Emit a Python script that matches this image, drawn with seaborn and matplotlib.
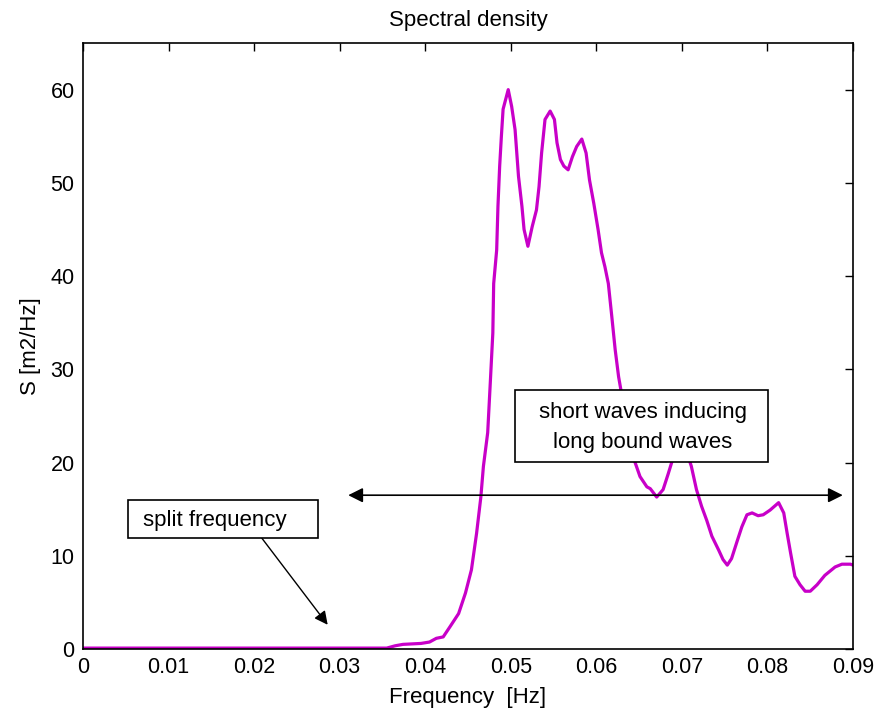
import matplotlib
matplotlib.use("Agg")
import matplotlib.pyplot as plt
from matplotlib.patches import Rectangle
import seaborn as sns
import pandas as pd

freq = [0.0, 0.010, 0.020, 0.030, 0.0355, 0.0365, 0.0374, 0.0395, 0.0405, 0.0413,
        0.0421, 0.0429, 0.0439, 0.0447, 0.0454, 0.0460, 0.0465, 0.0468, 0.0473,
        0.0476, 0.0479, 0.0480, 0.04835, 0.0485, 0.0487, 0.0489, 0.0491, 0.0497,
        0.0501, 0.0505, 0.0509, 0.0513, 0.05155, 0.0520, 0.0525, 0.0530, 0.0533,
        0.0536, 0.0540, 0.0546, 0.0551, 0.0554, 0.0558, 0.0562, 0.0567, 0.0572,
        0.0577, 0.0583, 0.0588, 0.0592, 0.0597, 0.0602, 0.0606, 0.0610, 0.0614,
        0.0618, 0.0622, 0.0626, 0.0630, 0.0636, 0.0643, 0.0651, 0.0659, 0.0663,
        0.06705, 0.0678, 0.0684, 0.0690, 0.0698, 0.0706, 0.0711, 0.0717, 0.0723,
        0.0729, 0.0735, 0.0743, 0.0748, 0.0753, 0.0758, 0.0765, 0.0770, 0.0776,
        0.0782, 0.0789, 0.0795, 0.0803, 0.0813, 0.0819, 0.0823, 0.0827, 0.0832,
        0.0838, 0.0844, 0.0850, 0.0858, 0.0867, 0.0879, 0.0887, 0.0897, 0.0900]
density = [0.1, 0.1, 0.1, 0.1, 0.1, 0.35, 0.5, 0.6, 0.75, 1.15,
           1.3, 2.4, 3.8, 6.0, 8.5, 12.4, 16.3, 19.6, 23.2,
           28.5, 33.9, 39.2, 42.8, 47.5, 51.8, 55.0, 57.9, 60.0,
           58.2, 55.7, 50.7, 47.5, 45.0, 43.2, 45.3, 47.1, 49.6,
           53.2, 56.8, 57.7, 56.8, 54.3, 52.5, 51.8, 51.4, 52.8,
           53.9, 54.7, 53.2, 50.3, 47.8, 45.0, 42.5, 41.0, 39.2,
           35.7, 32.1, 29.2, 27.1, 22.8, 20.6, 18.5, 17.4, 17.2,
           16.3, 17.1, 18.8, 20.6, 21.9, 21.0, 19.6, 17.1, 15.3,
           13.8, 12.1, 10.6, 9.6, 9.0, 9.7, 11.7, 13.1, 14.4,
           14.6, 14.3, 14.4, 14.9, 15.7, 14.6, 12.4, 10.3, 7.8,
           6.9, 6.2, 6.2, 6.9, 7.9, 8.8, 9.1, 9.1, 9.0]

xticks = [0, 0.01, 0.02, 0.03, 0.04, 0.05, 0.06, 0.07, 0.08, 0.09]
xticklabels = ["0", "0.01", "0.02", "0.03", "0.04", "0.05", "0.06", "0.07", "0.08", "0.09"]
yticks = [0, 10, 20, 30, 40, 50, 60]

df = pd.DataFrame({"Frequency": freq, "S": density})

sns.set_style("white")
plt.rcParams["font.family"] = ["Liberation Sans", "DejaVu Sans"]
plt.rcParams["text.color"] = "black"
plt.rcParams["axes.labelcolor"] = "black"

fig = plt.figure(figsize=(8.77, 7.17), dpi=100)
ax = fig.add_axes([0.0946, 0.0948, 0.9727 - 0.0946, 0.940 - 0.0948])

sns.lineplot(data=df, x="Frequency", y="S", ax=ax, color="#C800C8", linewidth=2.3)

ax.set_xlim(0, 0.09)
ax.set_ylim(0, 65)
ax.set_xticks(xticks)
ax.set_xticklabels(xticklabels)
ax.set_yticks(yticks)
ax.tick_params(direction="in", length=6, width=1, top=True, right=True,
               labelsize=15.5, colors="black", pad=6)
for s in ax.spines.values():
    s.set_color("black")
    s.set_linewidth(1.2)
    s.set_visible(True)

ax.set_title("Spectral density", fontsize=16, pad=12, color="black")
ax.set_xlabel("Frequency  [Hz]", fontsize=16, labelpad=6, color="black")
ax.set_ylabel("S [m2/Hz]", fontsize=16, labelpad=7, color="black")

# double arrow
ax.annotate("", xy=(0.0310, 16.5), xytext=(0.0888, 16.5),
            arrowprops=dict(arrowstyle="<|-|>", color="black", lw=1.2,
                            mutation_scale=22, shrinkA=0, shrinkB=0))
ax.add_patch(Rectangle((0.05049, 20.07), 0.08006 - 0.05049, 27.8 - 20.07,
                       fc="white", ec="black", lw=1.2, zorder=3))
ax.text(0.0654, 23.75, "short waves inducing\nlong bound waves", ha="center", va="center",
        fontsize=16, linespacing=1.55, zorder=4, color="black")

ax.annotate("", xy=(0.0286, 2.6), xytext=(0.0209, 11.9),
            arrowprops=dict(arrowstyle="-|>", color="black", lw=1.0,
                            mutation_scale=20, shrinkA=0, shrinkB=0))
ax.add_patch(Rectangle((0.00526, 11.9), 0.02747 - 0.00526, 16.0 - 11.9,
                       fc="white", ec="black", lw=1.2, zorder=3))
ax.text(0.0070, 13.75, "split frequency", ha="left", va="center", fontsize=16,
        zorder=4, color="black")

fig.savefig("out.png", dpi=100)
